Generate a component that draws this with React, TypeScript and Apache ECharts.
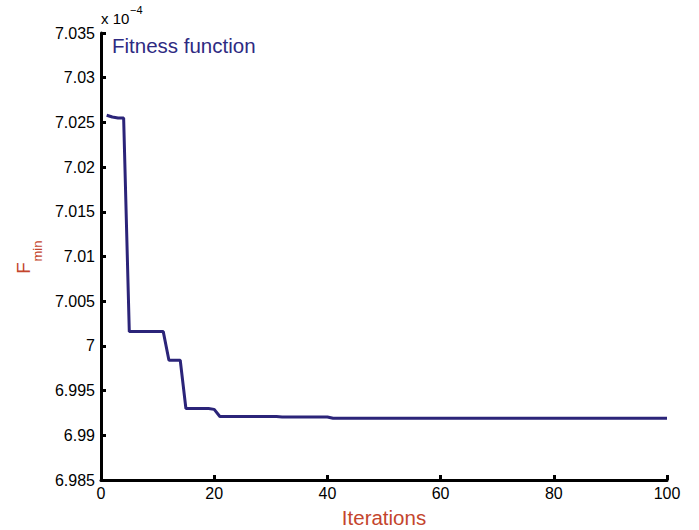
import React, { useEffect, useRef } from "react";
import * as echarts from "echarts";

// Best objective value per iteration, in units of 1e-4
const iterations: number[] = Array.from({ length: 100 }, (_, i) => i + 1);
const fminScaled: number[] = [
  7.0258, 7.0256, 7.0255, 7.0255, 7.0016, 7.0016, 7.0016, 7.0016, 7.0016, 7.0016,
  7.0016, 6.9984, 6.9984, 6.9984, 6.993, 6.993, 6.993, 6.993, 6.993, 6.9929,
  6.9921, 6.9921, 6.9921, 6.9921, 6.9921, 6.9921, 6.9921, 6.9921, 6.9921, 6.9921,
  6.9921, 6.99205, 6.99205, 6.99205, 6.99205, 6.99205, 6.99205, 6.99205, 6.99205, 6.99205,
  6.9919, 6.9919, 6.9919, 6.9919, 6.9919, 6.9919, 6.9919, 6.9919, 6.9919, 6.9919,
  6.9919, 6.9919, 6.9919, 6.9919, 6.9919, 6.9919, 6.9919, 6.9919, 6.9919, 6.9919,
  6.9919, 6.9919, 6.9919, 6.9919, 6.9919, 6.9919, 6.9919, 6.9919, 6.9919, 6.9919,
  6.9919, 6.9919, 6.9919, 6.9919, 6.9919, 6.9919, 6.9919, 6.9919, 6.9919, 6.9919,
  6.9919, 6.9919, 6.9919, 6.9919, 6.9919, 6.9919, 6.9919, 6.9919, 6.9919, 6.9919,
  6.9919, 6.9919, 6.9919, 6.9919, 6.9919, 6.9919, 6.9919, 6.9919, 6.9919, 6.9919,
];

const seriesName = "Fitness function";
const xAxisTitle = "Iterations";

const FONT = "'Liberation Sans', Arial, sans-serif";
const LINE_COLOR = "#2b2479";
const TITLE_RED = "#c4452d";
const AXIS_COLOR = "#000000";

export default function App() {
  const ref = useRef<HTMLDivElement>(null);

  useEffect(() => {
    if (!ref.current) return;
    const chart = echarts.init(ref.current, undefined, { renderer: "svg" });
    chart.setOption({
      animation: false,
      backgroundColor: "#ffffff",
      grid: { left: 101, right: 32, top: 33, bottom: 50 },
      xAxis: {
        type: "value",
        min: 0,
        max: 100,
        interval: 20,
        axisLine: { show: true, onZero: false, lineStyle: { color: AXIS_COLOR, width: 3 } },
        axisTick: { show: true, inside: true, length: 5, lineStyle: { color: AXIS_COLOR, width: 3 } },
        splitLine: { show: false },
        axisLabel: { color: "#000", fontSize: 16, fontFamily: FONT, margin: 5 },
      },
      yAxis: {
        type: "value",
        min: 6.985,
        max: 7.035,
        interval: 0.005,
        axisLine: { show: true, onZero: false, lineStyle: { color: AXIS_COLOR, width: 3 } },
        axisTick: { show: true, inside: true, length: 5, lineStyle: { color: AXIS_COLOR, width: 3 } },
        splitLine: { show: false },
        axisLabel: {
          color: "#000",
          fontSize: 16,
          fontFamily: FONT,
          margin: 6,
          formatter: (v: number) => String(parseFloat(v.toFixed(3))),
        },
      },
      series: [
        {
          name: seriesName,
          type: "line",
          data: iterations.map((it, i) => [it, fminScaled[i]]),
          showSymbol: false,
          lineStyle: { color: LINE_COLOR, width: 3 },
          itemStyle: { color: LINE_COLOR },
          z: 3,
        },
      ],
      graphic: [
        {
          type: "text",
          left: 112,
          top: 35,
          style: { text: seriesName, fill: "#2e2a82", fontSize: 20.5, fontFamily: FONT },
        },
        {
          type: "text",
          left: 101,
          top: 11,
          style: { text: "x 10", fill: "#000", fontSize: 15, fontFamily: FONT },
        },
        {
          type: "text",
          left: 130,
          top: 4,
          style: { text: "\u22124", fill: "#000", fontSize: 11, fontFamily: FONT },
        },
        {
          type: "text",
          x: 384,
          y: 517,
          style: {
            text: xAxisTitle,
            fill: TITLE_RED,
            fontSize: 20.5,
            fontFamily: FONT,
            align: "center",
            verticalAlign: "middle",
          },
        },
        {
          type: "text",
          x: 23,
          y: 268,
          rotation: Math.PI / 2,
          style: {
            text: "F",
            fill: TITLE_RED,
            fontSize: 19,
            fontFamily: FONT,
            align: "center",
            verticalAlign: "middle",
          },
        },
        {
          type: "text",
          x: 37,
          y: 251,
          rotation: Math.PI / 2,
          style: {
            text: "min",
            fill: TITLE_RED,
            fontSize: 13,
            fontFamily: FONT,
            align: "center",
            verticalAlign: "middle",
          },
        },
      ],
    });
    return () => chart.dispose();
  }, []);

  return (
    <div
      ref={ref}
      style={{ position: "absolute", left: 0, top: 0, width: 699, height: 530 }}
    />
  );
}
